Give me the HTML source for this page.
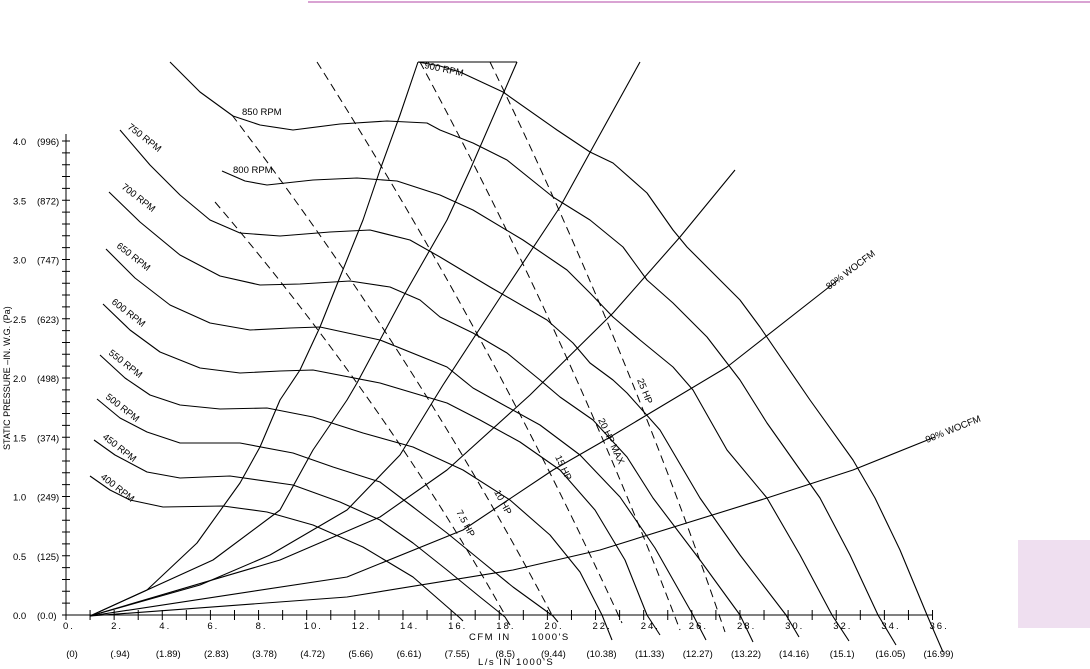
<!DOCTYPE html>
<html><head><meta charset="utf-8"><style>
html,body{margin:0;padding:0;background:#fff;}
svg{display:block;font-family:"Liberation Sans",sans-serif;}
</style></head><body>
<svg width="1090" height="669" viewBox="0 0 1090 669" xmlns="http://www.w3.org/2000/svg">
<line x1="308" y1="2" x2="1090" y2="2" stroke="#d9a3d3" stroke-width="2"/>
<rect x="1018" y="540" width="72" height="88" fill="#efdff0"/>
<g stroke="#000" stroke-width="1" fill="none">
<line x1="66" y1="134" x2="66" y2="615"/>
<line x1="66" y1="615" x2="932" y2="615"/>
<path d="M62,615H70M62,603.15H70M62,591.3H70M62,579.45H70M62,567.6H70M62,555.75H70M62,543.9H70M62,532.05H70M62,520.2H70M62,508.35H70M62,496.5H70M62,484.65H70M62,472.8H70M62,460.95H70M62,449.1H70M62,437.25H70M62,425.4H70M62,413.55H70M62,401.7H70M62,389.85H70M62,378H70M62,366.15H70M62,354.3H70M62,342.45H70M62,330.6H70M62,318.75H70M62,306.9H70M62,295.05H70M62,283.2H70M62,271.35H70M62,259.5H70M62,247.65H70M62,235.8H70M62,223.95H70M62,212.1H70M62,200.25H70M62,188.4H70M62,176.55H70M62,164.7H70M62,152.85H70M62,141H70"/>
<path d="M66,610V620M90.07,610V620M114.14,610V620M138.21,610V620M162.28,610V620M186.35,610V620M210.42,610V620M234.49,610V620M258.56,610V620M282.63,610V620M306.7,610V620M330.77,610V620M354.84,610V620M378.91,610V620M402.98,610V620M427.05,610V620M451.12,610V620M475.19,610V620M499.26,610V620M523.33,610V620M547.4,610V620M571.47,610V620M595.54,610V620M619.61,610V620M643.68,610V620M667.75,610V620M691.82,610V620M715.89,610V620M739.96,610V620M764.03,610V620M788.1,610V620M812.17,610V620M836.24,610V620M860.31,610V620M884.38,610V620M908.45,610V620M932.52,610V620"/>
</g>
<g fill="none" stroke="#000" stroke-width="1.1" stroke-linejoin="round">
<polyline points="90,476 110,490 130,500 163,507 223,506 267,512 313,525 363,547 413,577 460,618 463,621"/>
<polyline points="94,440 115,455 147,472 180,478 230,476 293,485 340,502 380,520 413,543 447,570 480,597 505,617 510,625"/>
<polyline points="97,399 120,418 147,432 180,443 240,443 293,453 333,467 380,482 413,507 447,533 480,560 513,587 553,616 558,622"/>
<polyline points="100,355 125,378 150,395 180,405 220,409 267,408 313,417 363,433 413,447 463,470 510,500 550,535 580,572 602,615 612,640"/>
<polyline points="103,304 130,330 160,352 200,368 240,373 280,371 313,370 380,383 447,403 480,420 520,442 560,470 595,510 625,560 647,615 660,635"/>
<polyline points="106,249 135,278 170,305 210,323 250,330 290,328 320,327 380,340 447,367 473,388 500,403 540,425 580,455 620,497 655,548 693,615 706,640"/>
<polyline points="109,192 140,222 180,255 220,276 260,285 300,284 350,281 390,287 420,300 440,317 473,333 507,353 540,380 560,397 593,420 627,457 653,498 700,560 740,615 753,642"/>
<polyline points="120,130 150,165 180,195 210,220 240,233 280,236 330,232 370,230 410,240 440,257 490,287 547,320 573,343 590,363 613,380 627,393 660,430 700,498 740,555 786,615 799,637"/>
<polyline points="222,171 245,181 267,185 313,180 357,178 397,181 440,195 473,210 523,240 567,270 590,293 613,317 640,340 673,367 693,390 727,450 767,498 800,555 832,615 849,641"/>
<polyline points="170,62 200,92 233,116 260,125 293,130 340,124 387,121 427,123 440,130 473,143 507,160 553,197 590,220 623,247 647,280 673,303 707,337 740,380 767,423 820,498 850,555 878,615 896,645"/>
<polyline points="418,62 440,66 460,72 503,92 557,130 590,152 613,163 647,193 673,230 687,247 707,267 740,300 760,327 810,400 853,460 875,498 900,550 927,615 943,652"/>
<polyline points="90,616 147,590 197,543 240,483 260,447 280,400 300,370 320,327 340,277 363,220 380,170 400,115 418,62"/>
<polyline points="90,616 213,560 280,510 313,450 347,400 357,383 403,297 447,220 470,170 517,62"/>
<polyline points="90,616 200,585 270,555 347,510 400,455 443,385 503,293 560,207 593,147 640,62"/>
<polyline points="90,616 280,560 380,517 447,470 530,395 613,313 680,237 735,170"/>
<polyline points="90,616 347,577 463,530 553,470 600,443 727,367 838,280"/>
<polyline points="90,616 347,597 513,570 600,550 767,498 853,470 935,437"/>
<line x1="418" y1="62" x2="517" y2="62"/>
</g>
<g fill="none" stroke="#000" stroke-width="1" stroke-dasharray="8,5">
<path d="M215,202 Q384,400 505,615"/>
<path d="M232,115 Q415,355 552,615"/>
<path d="M317,62 Q490,335 622,623"/>
<path d="M420,62 Q570,340 680,630"/>
<path d="M490,62 Q625,340 725,632"/>
</g>
<g font-size="9.5" fill="#000">
<text transform="translate(127,128) rotate(38)">750 RPM</text>
<text transform="translate(121,188) rotate(38)">700 RPM</text>
<text transform="translate(116,247) rotate(38)">650 RPM</text>
<text transform="translate(111,303) rotate(38)">600 RPM</text>
<text transform="translate(108,354) rotate(38)">550 RPM</text>
<text transform="translate(105,398) rotate(38)">500 RPM</text>
<text transform="translate(102,438) rotate(38)">450 RPM</text>
<text transform="translate(100,478) rotate(38)">400 RPM</text>
<text x="242" y="115">850 RPM</text>
<text x="233" y="173">800 RPM</text>
<text transform="translate(424,68) rotate(12)">900 RPM</text>
<text transform="translate(829,290) rotate(-37)">80% WOCFM</text>
<text transform="translate(927,443) rotate(-22)">90% WOCFM</text>
<text transform="translate(456,512) rotate(62)">7.5 HP</text>
<text transform="translate(494,492) rotate(62)">10 HP</text>
<text transform="translate(555,457) rotate(65)">15 HP</text>
<text transform="translate(598,420) rotate(65)">20 HP MAX</text>
<text transform="translate(637,380) rotate(68)">25 HP</text>
<text transform="translate(10,450) rotate(-90)" font-size="9">STATIC PRESSURE –IN. W.G.  (Pa)</text>
<text x="13" y="619">0.0</text><text x="37" y="619">(0.0)</text>
<text x="13" y="559.75">0.5</text><text x="37" y="559.75">(125)</text>
<text x="13" y="500.5">1.0</text><text x="37" y="500.5">(249)</text>
<text x="13" y="441.25">1.5</text><text x="37" y="441.25">(374)</text>
<text x="13" y="382">2.0</text><text x="37" y="382">(498)</text>
<text x="13" y="322.75">2.5</text><text x="37" y="322.75">(623)</text>
<text x="13" y="263.5">3.0</text><text x="37" y="263.5">(747)</text>
<text x="13" y="204.25">3.5</text><text x="37" y="204.25">(872)</text>
<text x="13" y="145">4.0</text><text x="37" y="145">(996)</text>
<g letter-spacing="2">
<text x="63" y="629">0.</text><text x="111.1" y="629">2.</text><text x="159.3" y="629">4.</text><text x="207.4" y="629">6.</text><text x="255.6" y="629">8.</text><text x="303.7" y="629">10.</text><text x="351.8" y="629">12.</text><text x="400" y="629">14.</text><text x="448.1" y="629">16.</text><text x="496.3" y="629">18.</text><text x="544.4" y="629">20.</text><text x="592.5" y="629">22.</text><text x="640.7" y="629">24.</text><text x="688.8" y="629">26.</text><text x="737" y="629">28.</text><text x="785.1" y="629">30.</text><text x="833.2" y="629">32.</text><text x="881.4" y="629">34.</text><text x="929.5" y="629">36.</text>
</g>
<g text-anchor="middle">
<text x="72" y="657">(0)</text><text x="120.1" y="657">(.94)</text><text x="168.3" y="657">(1.89)</text><text x="216.4" y="657">(2.83)</text><text x="264.6" y="657">(3.78)</text><text x="312.7" y="657">(4.72)</text><text x="360.8" y="657">(5.66)</text><text x="409" y="657">(6.61)</text><text x="457.1" y="657">(7.55)</text><text x="505.3" y="657">(8.5)</text><text x="553.4" y="657">(9.44)</text><text x="601.5" y="657">(10.38)</text><text x="649.7" y="657">(11.33)</text><text x="697.8" y="657">(12.27)</text><text x="746" y="657">(13.22)</text><text x="794.1" y="657">(14.16)</text><text x="842.2" y="657">(15.1)</text><text x="890.4" y="657">(16.05)</text><text x="938.5" y="657">(16.99)</text>
</g>
<text x="469" y="640" letter-spacing="1.5" xml:space="preserve">CFM IN     1000'S</text>
<text x="478" y="665" letter-spacing="1.5">L/s IN 1000'S</text>
</g>
</svg>
</body></html>
